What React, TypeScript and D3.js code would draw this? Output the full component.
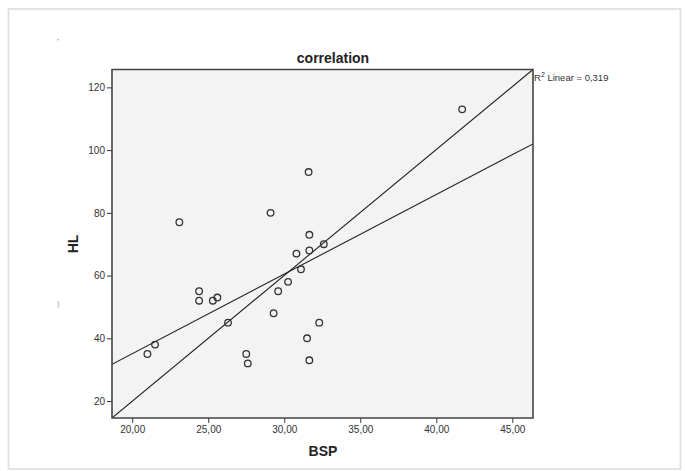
import { useEffect, useRef } from "react";
import * as d3 from "d3";

// BSP (x) and HL (y) values
const bsp = [
  21.0, 21.5, 23.1, 24.4, 24.4, 25.3, 25.6, 26.3, 27.5, 27.6, 29.1, 29.3,
  29.6, 30.25, 30.8, 31.1, 31.6, 31.65, 31.65, 31.5, 31.65, 32.3, 32.6, 41.7,
];
const hl = [
  35, 38, 77, 55, 52, 52, 53, 45, 35, 32, 80, 48, 55, 58, 67, 62, 93, 73, 68,
  40, 33, 45, 70, 113,
];

const xTicks = [20, 25, 30, 35, 40, 45];
const yTicks = [20, 40, 60, 80, 100, 120];
const xDomain = [18.67, 46.36];
const yDomain = [14.6, 125.7];

const title = "correlation";
const r2Label = "0,319";

export default function App() {
  const ref = useRef<SVGSVGElement | null>(null);

  useEffect(() => {
    const svg = d3.select(ref.current);
    svg.selectAll("*").remove();

    const margin = { left: 112, top: 69.5, right: 533, bottom: 418 };

    const x = d3.scaleLinear().domain(xDomain).range([margin.left, margin.right]);
    const y = d3.scaleLinear().domain(yDomain).range([margin.bottom, margin.top]);

    // outer frame of the screenshot
    svg
      .append("rect")
      .attr("x", 8.5)
      .attr("y", 9)
      .attr("width", 672)
      .attr("height", 460)
      .attr("fill", "#fff")
      .attr("stroke", "#e3e3e3")
      .attr("stroke-width", 2);

    // plot area
    svg
      .append("rect")
      .attr("x", margin.left)
      .attr("y", margin.top)
      .attr("width", margin.right - margin.left)
      .attr("height", margin.bottom - margin.top)
      .attr("fill", "#f3f3f3");

    const font = "Arial, 'Liberation Sans', sans-serif";

    // y axis
    const yAxis = svg
      .append("g")
      .attr("transform", `translate(${margin.left},0)`)
      .call(d3.axisLeft(y).tickValues(yTicks).tickSize(5).tickPadding(2).tickSizeOuter(0));
    yAxis.select(".domain").remove();
    yAxis.selectAll("line").attr("stroke", "#333");
    yAxis.selectAll("text").style("font-family", font).style("font-size", "10px").attr("fill", "#333");

    // x axis
    const xAxis = svg
      .append("g")
      .attr("transform", `translate(0,${margin.bottom})`)
      .call(
        d3
          .axisBottom(x)
          .tickValues(xTicks)
          .tickSize(5)
          .tickPadding(3)
          .tickFormat((d) => d3.format(".2f")(d as number).replace(".", ",")),
      );
    xAxis.select(".domain").remove();
    xAxis.selectAll("line").attr("stroke", "#333");
    xAxis.selectAll("text").style("font-family", font).style("font-size", "10px").attr("fill", "#333");

    svg
      .append("clipPath")
      .attr("id", "plotclip")
      .append("rect")
      .attr("x", margin.left)
      .attr("y", margin.top)
      .attr("width", margin.right - margin.left)
      .attr("height", margin.bottom - margin.top);

    const lines = svg.append("g").attr("clip-path", "url(#plotclip)");

    // least squares fit
    const mx = d3.mean(bsp) as number;
    const my = d3.mean(hl) as number;
    const sxy = d3.sum(bsp, (v, i) => (v - mx) * (hl[i] - my));
    const sxx = d3.sum(bsp, (v) => (v - mx) * (v - mx));
    const slope = sxy / sxx;
    const intercept = my - slope * mx;

    lines
      .append("line")
      .attr("x1", x(xDomain[0]))
      .attr("y1", y(intercept + slope * xDomain[0]))
      .attr("x2", x(xDomain[1]))
      .attr("y2", y(intercept + slope * xDomain[1]))
      .attr("stroke", "#222")
      .attr("stroke-width", 1.1);

    // corner-to-corner reference line
    lines
      .append("line")
      .attr("x1", x(xDomain[0]))
      .attr("y1", y(yDomain[0]))
      .attr("x2", x(xDomain[1]))
      .attr("y2", y(yDomain[1]))
      .attr("stroke", "#222")
      .attr("stroke-width", 1.1);

    // points
    svg
      .append("g")
      .selectAll("circle")
      .data(bsp)
      .enter()
      .append("circle")
      .attr("cx", (d) => x(d))
      .attr("cy", (_, i) => y(hl[i]))
      .attr("r", 3.3)
      .attr("fill", "none")
      .attr("stroke", "#333")
      .attr("stroke-width", 1.3);

    // plot border
    svg
      .append("path")
      .attr(
        "d",
        `M${margin.left},${margin.top}H${margin.right}V${margin.bottom}H${margin.left}Z`,
      )
      .attr("fill", "none")
      .attr("stroke", "#444")
      .attr("stroke-width", 1.6);

    // title
    svg
      .append("text")
      .attr("x", 333)
      .attr("y", 63)
      .attr("text-anchor", "middle")
      .style("font-family", font)
      .style("font-size", "14px")
      .style("font-weight", "bold")
      .attr("fill", "#222")
      .text(title);

    // axis titles
    svg
      .append("text")
      .attr("x", 323)
      .attr("y", 456)
      .attr("text-anchor", "middle")
      .style("font-family", font)
      .style("font-size", "14px")
      .style("font-weight", "bold")
      .attr("fill", "#222")
      .text("BSP");

    svg
      .append("text")
      .attr("transform", "translate(78,244) rotate(-90)")
      .attr("text-anchor", "middle")
      .style("font-family", font)
      .style("font-size", "14px")
      .style("font-weight", "bold")
      .attr("fill", "#222")
      .text("HL");

    // R² label
    const r2 = svg
      .append("text")
      .attr("x", margin.right + 1)
      .attr("y", 81)
      .style("font-family", font)
      .style("font-size", "9.5px")
      .attr("fill", "#333");
    r2.append("tspan").text("R");
    r2.append("tspan").attr("dy", -4).style("font-size", "7px").text("2");
    r2.append("tspan").attr("dy", 4).text(` Linear = ${r2Label}`);

    // stray marks in the screenshot
    svg
      .append("text")
      .attr("x", 57)
      .attr("y", 44)
      .style("font-family", font)
      .style("font-size", "8px")
      .attr("fill", "#666")
      .text("'");
    svg
      .append("text")
      .attr("x", 57)
      .attr("y", 306)
      .style("font-family", font)
      .style("font-size", "8px")
      .attr("fill", "#999")
      .text(")");
  }, []);

  return (
    <svg
      ref={ref}
      width={685}
      height={471}
      style={{ position: "absolute", left: 0, top: 0, background: "#fff" }}
    />
  );
}
